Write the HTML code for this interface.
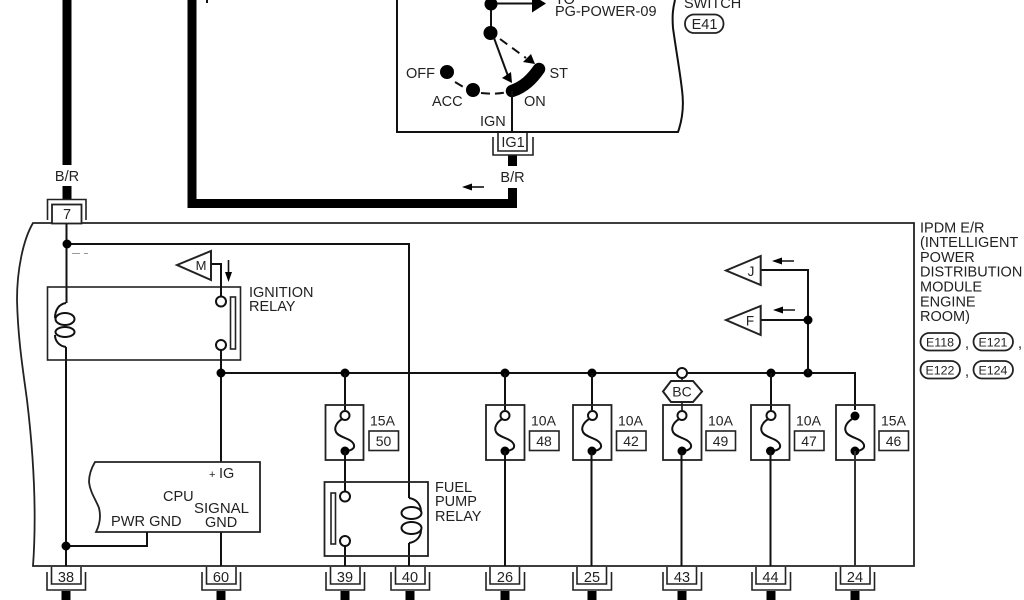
<!DOCTYPE html>
<html>
<head>
<meta charset="utf-8">
<style>
html,body{margin:0;padding:0;background:#fff;width:1024px;height:600px;overflow:hidden}
svg{display:block;filter:blur(0.35px)}
text{font-family:"Liberation Sans",sans-serif;font-size:14.5px;fill:#222}
.m{text-anchor:middle}
.l{fill:none;stroke:#111;stroke-width:2}
.t{fill:none;stroke:#000;stroke-width:9}
.n{fill:#000;stroke:none}
.o{fill:#fff;stroke:#111;stroke-width:2}
.r{fill:none;stroke:#222;stroke-width:1.6}
.s{font-size:12.4px}
</style>
</head>
<body>
<svg width="1024" height="600" viewBox="0 0 1024 600" xmlns="http://www.w3.org/2000/svg">
<!-- thick wires -->
<path class="t" d="M67,0V165M67,186V200"/>
<path class="t" d="M192,0V203.500H512.500V188"/>
<path class="t" d="M512.500,155V166"/>
<path d="M207,0V3" class="l"/>

<!-- switch box -->
<path class="l" d="M397,0V132H678C683,118 684,105 682,90C680,72 676,50 673,28C672,15 673,8 675,0"/>
<path class="l" d="M491,4V33"/>
<path class="l" d="M491,3.500H535"/>
<path class="n" d="M532,-5L546,3.500L532,12.500Z"/>
<circle class="n" cx="491" cy="4" r="6.500"/>
<circle class="n" cx="490.500" cy="33" r="7"/>
<path class="l" d="M494,38L508,76"/>
<path class="n" d="M502,78L511,72L512,83Z"/>
<path class="l" stroke-dasharray="9 6" d="M500,39L526,58"/>
<path class="n" d="M523,62L531,54L535,64Z"/>
<path d="M512,91C524,87 532,79 539,69" fill="none" stroke="#000" stroke-width="12.500" stroke-linecap="round"/>
<circle class="n" cx="447" cy="72" r="7"/>
<circle class="n" cx="473" cy="90" r="7"/>
<path class="l" stroke-dasharray="9 5" d="M455,82L465,88"/>
<path class="l" stroke-dasharray="9 5" d="M481,93C490,94 498,94 508,92"/>
<path class="l" d="M512,91V132"/>
<text x="406" y="78">OFF</text>
<text x="549.500" y="78">ST</text>
<text x="432" y="106">ACC</text>
<text x="524" y="106">ON</text>
<text x="480" y="126">IGN</text>
<text x="555" y="4">TO</text>
<text x="555" y="16">PG-POWER-09</text>
<text x="684" y="8">SWITCH</text>
<rect class="r" x="685" y="14.500" width="38.500" height="18.500" rx="9" ry="9" style="stroke-width:1.800"/>
<text class="m" x="704.500" y="29">E41</text>

<!-- IG1 connector -->
<path class="r" d="M498,133V151H527V133M493,137V155H533V137"/>
<text class="m" x="513" y="147">IG1</text>
<text class="m" x="512.500" y="182">B/R</text>
<path class="l" d="M470,187H484" style="stroke-width:1.600"/>
<path class="n" d="M462,187L472,183.500V190.500Z"/>
<text class="m" x="67" y="181">B/R</text>

<!-- main box -->
<path class="r" d="M914,223H33C23,240 17,270 17,300C18,340 23,370 27,400C33,450 37,510 33,566H914Z" style="stroke-width:1.800"/>

<!-- connector 7 -->
<rect x="52" y="204.500" width="29.500" height="19" fill="#fff" stroke="#222" stroke-width="1.800"/>
<path class="r" d="M47.500,220V199.500H86V220"/>
<text class="m" x="67" y="219">7</text>

<!-- left wires -->
<path class="l" d="M66.500,224V303M66,347V566"/>
<path class="l" d="M67,244H409V498M409,543V566"/>
<circle class="n" cx="67" cy="244" r="4.500"/>
<path d="M72,253.500H80M84,253.500H88" stroke="#999" stroke-width="1" fill="none"/>

<!-- ignition relay -->
<rect class="r" x="47.500" y="287" width="193" height="73"/>
<path class="l" d="M66,303C59,304 55,310 55,318M55,335C55,341 59,346 66,347"/>
<ellipse class="l" cx="65" cy="319" rx="9.500" ry="6"/>
<ellipse class="l" cx="65" cy="332" rx="9.500" ry="5"/>
<path class="r" d="M177,265L211,251V280Z" style="stroke-width:2"/>
<text class="m" x="201" y="270" style="font-size:13px">M</text>
<path class="l" d="M211,264H221V296"/>
<circle class="o" cx="221" cy="301.500" r="5"/>
<circle class="o" cx="221" cy="345" r="5"/>
<path class="l" d="M221,350V462M221,532V566"/>
<rect class="r" x="230.500" y="297" width="5" height="52"/>
<path class="l" d="M228.500,260V274" style="stroke-width:1.600"/>
<path class="n" d="M225,272H232L228.500,282Z"/>
<text x="249" y="297">IGNITION</text>
<text x="249" y="311">RELAY</text>

<!-- bus -->
<path class="l" d="M221,373H677M687,373H855V410"/>
<circle class="n" cx="221" cy="373" r="4.500"/>
<circle class="n" cx="345" cy="373" r="4.500"/>
<circle class="n" cx="505" cy="373" r="4.500"/>
<circle class="n" cx="592" cy="373" r="4.500"/>
<circle class="n" cx="771" cy="373" r="4.500"/>
<circle class="n" cx="808" cy="373" r="4.500"/>
<circle class="o" cx="682" cy="373" r="5"/>
<path class="l" d="M345,373V410M505,373V410M592,373V410M771,373V410"/>
<path class="l" d="M682,378V381M682,402V410" style="stroke-width:1.600"/>
<path class="r" d="M663,391.500L671,381H693L702,391.500L693,402H671Z" style="stroke-width:2"/>
<text class="m" x="682" y="396.500" style="font-size:14px">BC</text>

<!-- right triangles -->
<path class="l" d="M761,270H808V373M761,320H808"/>
<circle class="n" cx="808" cy="320" r="4.500"/>
<path class="r" d="M726,270.500L760.700,256V285Z" style="stroke-width:2"/>
<path class="r" d="M726,320L760.700,306V335Z" style="stroke-width:2"/>
<text class="m" x="751" y="276" style="font-size:13.500px">J</text>
<text class="m" x="750" y="325.500" style="font-size:13.500px">F</text>
<path class="l" d="M780,261H794M781,310H795" style="stroke-width:1.600"/>
<path class="n" d="M772,261L782,257.500V264.500Z"/>
<path class="n" d="M773,310L783,306.500V313.500Z"/>

<!-- fuses -->
<g id="fuses">
<rect class="r" x="325.500" y="405" width="38" height="55" style="stroke-width:1.800"/>
<path class="l" d="M342,419C336,423 334,428 336,432C339,438 352,438 354,445C355,449 350,451 345,451"/>
<circle class="o" cx="345" cy="415.500" r="4.500"/>
<circle class="n" cx="345" cy="451" r="4.500"/>
<text x="370" y="425.500" style="font-size:14px">15A</text>
<rect class="r" x="369" y="431" width="29.500" height="19.500"/>
<text class="m" x="383.500" y="446" style="font-size:14px">50</text>

<rect class="r" x="486" y="405" width="38.500" height="55" style="stroke-width:1.800"/>
<path class="l" d="M502,419C496,423 494,428 496,432C499,438 512,438 514,445C515,449 510,451 505,451"/>
<circle class="o" cx="505" cy="415.500" r="4.500"/>
<circle class="n" cx="505" cy="451" r="4.500"/>
<text x="531" y="425.500" style="font-size:14px">10A</text>
<rect class="r" x="529.500" y="431" width="29.500" height="19.500"/>
<text class="m" x="544" y="446" style="font-size:14px">48</text>

<rect class="r" x="573" y="405" width="38.500" height="55" style="stroke-width:1.800"/>
<path class="l" d="M589,419C583,423 581,428 583,432C586,438 599,438 601,445C602,449 597,451 592,451"/>
<circle class="o" cx="592.500" cy="415.500" r="4.500"/>
<circle class="n" cx="592" cy="451" r="4.500"/>
<text x="618" y="425.500" style="font-size:14px">10A</text>
<rect class="r" x="616.500" y="431" width="29.500" height="19.500"/>
<text class="m" x="631" y="446" style="font-size:14px">42</text>

<rect class="r" x="663" y="405" width="38.500" height="55" style="stroke-width:1.800"/>
<path class="l" d="M679,419C673,423 671,428 673,432C676,438 689,438 691,445C692,449 687,451 682,451"/>
<circle class="o" cx="682" cy="415.500" r="4.500"/>
<circle class="n" cx="682" cy="451" r="4.500"/>
<text x="708" y="425.500" style="font-size:14px">10A</text>
<rect class="r" x="706" y="431" width="29.500" height="19.500"/>
<text class="m" x="720.500" y="446" style="font-size:14px">49</text>

<rect class="r" x="751" y="405" width="38.500" height="55" style="stroke-width:1.800"/>
<path class="l" d="M768,419C762,423 760,428 762,432C765,438 778,438 780,445C781,449 776,451 771,451"/>
<circle class="o" cx="771" cy="415.500" r="4.500"/>
<circle class="n" cx="770.500" cy="451" r="4.500"/>
<text x="796" y="425.500" style="font-size:14px">10A</text>
<rect class="r" x="794.500" y="431" width="29.500" height="19.500"/>
<text class="m" x="809" y="446" style="font-size:14px">47</text>

<rect class="r" x="836" y="405" width="38.500" height="55" style="stroke-width:1.800"/>
<path class="l" d="M852,419C846,423 844,428 846,432C849,438 862,438 864,445C865,449 860,451 855,451"/>
<circle class="n" cx="855" cy="416" r="4.500"/>
<circle class="n" cx="855" cy="451" r="4.500"/>
<text x="881" y="425.500" style="font-size:14px">15A</text>
<rect class="r" x="879" y="431" width="29.500" height="19.500"/>
<text class="m" x="893.500" y="446" style="font-size:14px">46</text>
</g>

<!-- fuse down wires -->
<path class="l" d="M505,451V566M591.500,451V566M681.500,451V566M770.500,451V566"/>
<path class="l" d="M855,451V566" style="stroke:#333"/>
<path class="l" d="M345,451V491M345,546V566"/>

<!-- fuel pump relay -->
<rect class="r" x="324.500" y="482" width="103.500" height="74" style="stroke-width:1.800"/>
<circle class="o" cx="345" cy="496.500" r="5"/>
<circle class="o" cx="345" cy="541" r="5"/>
<rect class="r" x="331" y="493" width="4.500" height="51"/>
<path class="l" d="M409,498C416,499 421,504 421,512M421,530C421,537 416,542 409,543"/>
<ellipse class="l" cx="411.500" cy="513" rx="10" ry="6"/>
<ellipse class="l" cx="411.500" cy="528" rx="10" ry="6"/>
<text x="435" y="492">FUEL</text>
<text x="435" y="506">PUMP</text>
<text x="435" y="521">RELAY</text>

<!-- CPU -->
<path class="r" d="M95,462H260V532H96C100,524 101,516 99,508C96,500 90,492 89,482C89,474 92,467 95,462Z" style="stroke-width:1.800"/>
<text x="209" y="478" style="font-size:11px">+</text>
<text x="219" y="478">IG</text>
<text x="163" y="501">CPU</text>
<text x="194" y="513" style="font-size:15px">SIGNAL</text>
<text x="205" y="527">GND</text>
<text x="111" y="526" style="font-size:14.600px">PWR GND</text>
<path class="l" d="M147,532V546H66"/>
<circle class="n" cx="66" cy="546" r="4.500"/>

<!-- bottom connectors -->
<g>
<path class="r" d="M51.500,567V584H81V567M47,572V590H85.500V572"/>
<path class="r" d="M206.500,567V584H236V567M202,572V590H240.500V572"/>
<path class="r" d="M330.500,567V584H360V567M326,572V590H364.500V572"/>
<path class="r" d="M395.500,567V584H425V567M391,572V590H429.500V572"/>
<path class="r" d="M490,567V584H519.500V567M486,572V590H524.500V572"/>
<path class="r" d="M577,567V584H606.500V567M573,572V590H611.500V572"/>
<path class="r" d="M667,567V584H696.500V567M663,572V590H701.500V572"/>
<path class="r" d="M756,567V584H785.500V567M752,572V590H790.500V572"/>
<path class="r" d="M840.500,567V584H870V567M836,572V590H874.500V572"/>
</g>
<text class="m" x="66" y="582">38</text>
<text class="m" x="221" y="582">60</text>
<text class="m" x="345" y="582">39</text>
<text class="m" x="410" y="582">40</text>
<text class="m" x="505" y="582">26</text>
<text class="m" x="592" y="582">25</text>
<text class="m" x="682" y="582">43</text>
<text class="m" x="770.500" y="582">44</text>
<text class="m" x="855" y="582">24</text>
<path class="t" d="M66,591V600M221,591V600M345,591V600M410,591V600M505,591V600M592,591V600M682,591V600M771,591V600M855,591V600"/>

<!-- right labels -->
<text x="920" y="232.500">IPDM E/R</text>
<text x="920" y="247">(INTELLIGENT</text>
<text x="920" y="262">POWER</text>
<text x="920" y="276.500">DISTRIBUTION</text>
<text x="920" y="291.500">MODULE</text>
<text x="920" y="306.500">ENGINE</text>
<text x="920" y="321">ROOM)</text>
<rect class="r" x="920.500" y="333" width="39.500" height="17.500" rx="8.700" ry="8.700" style="stroke-width:1.800"/>
<rect class="r" x="973.500" y="333" width="39.500" height="17.500" rx="8.700" ry="8.700" style="stroke-width:1.800"/>
<rect class="r" x="920.500" y="361" width="39.500" height="17.500" rx="8.700" ry="8.700" style="stroke-width:1.800"/>
<rect class="r" x="973.500" y="361" width="39.500" height="17.500" rx="8.700" ry="8.700" style="stroke-width:1.800"/>
<text class="m s" x="940" y="346.500">E118</text>
<text class="m s" x="993" y="346.500">E121</text>
<text class="m s" x="940" y="374.500">E122</text>
<text class="m s" x="993" y="374.500">E124</text>
<text x="965" y="348">,</text>
<text x="1018" y="348">,</text>
<text x="965" y="376">,</text>
</svg>
</body>
</html>
